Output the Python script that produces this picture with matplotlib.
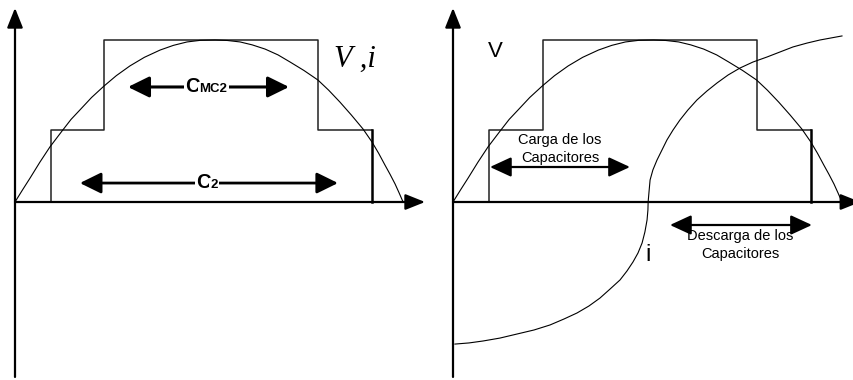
import matplotlib
matplotlib.use("Agg")
import matplotlib.pyplot as plt

# x in electrical degrees (half cycle 0..180), y normalised to peak voltage
steps_x = [16.5, 41.5, 140.6, 165.7]
steps_y = [0.444, 1.0]

v_x = [0, 3.5, 7.0, 11.5, 16.2, 21.8, 26.0, 30.1, 35.5, 41.3, 47.0, 53.3,
       60.0, 67.3, 73.5, 79.8, 86.0, 92.8, 98.5, 104.4, 110.0, 116.0, 122.0,
       127.6, 134.0, 140.5, 145.5, 150.7, 156.0, 161.4, 165.6, 168.7, 171.6,
       174.0, 176.3, 178.2, 180.0]
v_y = [0, 0.075, 0.148, 0.245, 0.340, 0.438, 0.510, 0.568, 0.645, 0.716, 0.780, 0.840,
       0.893, 0.938, 0.967, 0.988, 0.998, 1.0, 0.997, 0.988, 0.970, 0.944, 0.908,
       0.864, 0.812, 0.753, 0.690, 0.617, 0.537, 0.451, 0.370, 0.300, 0.228,
       0.170, 0.111, 0.055, 0]

i_x = [0.9, 7.4, 13.9, 21.7, 29.6, 37.5, 44.9, 51.4, 57.4, 62.9, 68.0, 72.7,
       77.3, 80.5, 83.3, 85.6, 87.5, 88.8, 89.8, 90.2, 90.3,
       90.7, 91.2, 92.5, 94.4, 96.7, 99.0, 101.8, 105.0, 108.7, 112.9, 117.5,
       122.2, 127.3, 132.8, 138.8, 145.3, 151.3, 157.3, 163.8, 169.8, 180.0]
i_y = [-0.877, -0.870, -0.858, -0.840, -0.815, -0.790, -0.759, -0.722, -0.685, -0.642, -0.593, -0.537,
       -0.481, -0.426, -0.370, -0.315, -0.253, -0.185, -0.111, -0.049, 0,
       0.062, 0.136, 0.198, 0.259, 0.321, 0.383, 0.444, 0.506, 0.568, 0.630, 0.685,
       0.735, 0.784, 0.827, 0.864, 0.895, 0.926, 0.957, 0.981, 1.0, 1.025]

# double arrows: (x start, x end, y)
arr_cmc2 = (52.4, 127.1, 0.71)
arr_c2 = (30.1, 149.8, 0.117)
arr_carga = (17.1, 81.9, 0.216)
arr_descarga = (100.4, 166.1, -0.142)

W, H = 854, 380
fig = plt.figure(figsize=(W / 100, H / 100), dpi=100)


def make_axes(left_px, width_px, origin_px, px_per_deg):
    ax = fig.add_axes([left_px / W, 0, width_px / W, 1])
    ax.set_xlim((left_px - origin_px) / px_per_deg, (left_px + width_px - origin_px) / px_per_deg)
    # y axis: zero at 202 px from top, 162 px per unit
    ax.set_ylim((202 - H) / 162, 202 / 162)
    ax.axis('off')
    return ax


def axes_arrows(ax, x_tip):
    kw = dict(arrowstyle='-|>,head_length=0.6,head_width=0.24', mutation_scale=20,
              lw=1.6, color='black', shrinkA=0, shrinkB=0)
    ax.annotate('', xy=(x_tip, 0), xytext=(0, 0), arrowprops=kw, annotation_clip=False)
    ax.annotate('', xy=(0, 1.198), xytext=(0, -1.08), arrowprops=kw, annotation_clip=False)


def draw_steps(ax):
    a, b, c, d = steps_x
    lo, hi = steps_y
    ax.plot([a, a, b, b, c, c, d], [0, lo, lo, hi, hi, lo, lo], color='#222222', lw=1.1)
    ax.plot([d, d], [lo, 0], color='black', lw=1.8)


def double_arrow(ax, spec, lw, hl=0.65, hw=0.32):
    x0, x1, y = spec
    ax.annotate('', xy=(x1, y), xytext=(x0, y),
                arrowprops=dict(arrowstyle='<|-|>,head_length=%s,head_width=%s' % (hl, hw),
                                mutation_scale=20, lw=lw, color='black',
                                shrinkA=0, shrinkB=0))


# ---------- left panel ----------
axL = make_axes(0, 430, 15, 2.156)
draw_steps(axL)
axL.plot(v_x, v_y, color='black', lw=0.8)
axes_arrows(axL, 190.2)
double_arrow(axL, arr_cmc2, 2.2)
double_arrow(axL, arr_c2, 2.0)

box = dict(facecolor='white', edgecolor='none', pad=1)
axL.text(85.8, 0.676, 'C', fontsize=14.5, fontweight='bold', family='Liberation Sans',
         ha='right', va='baseline', bbox=box)
axL.text(85.6, 0.676, 'MC2', fontsize=9.5, fontweight='bold', family='Liberation Sans',
         ha='left', va='baseline', bbox=box)
axL.text(90.8, 0.086, 'C', fontsize=14.5, fontweight='bold', family='Liberation Sans',
         ha='right', va='baseline', bbox=box)
axL.text(90.6, 0.086, '2', fontsize=9.5, fontweight='bold', family='Liberation Sans',
         ha='left', va='baseline', bbox=box)
axL.text(148.0, 0.88, 'V ,i', fontsize=22, family='Liberation Serif', style='italic',
         ha='left', va='center')

# ---------- right panel ----------
axR = make_axes(430, 424, 453, 2.161)
draw_steps(axR)
axR.plot(v_x, v_y, color='black', lw=0.8)
axR.plot(i_x, i_y, color='black', lw=0.8)
axes_arrows(axR, 188.5)
double_arrow(axR, arr_carga, 1.6, 0.65, 0.3)
double_arrow(axR, arr_descarga, 1.6, 0.65, 0.3)

axR.text(19.4, 0.93, 'V', fontsize=16, family='Liberation Sans', ha='center', va='center')
axR.text(90.4, -0.33, 'i', fontsize=17, family='Liberation Sans', ha='center', va='center')
axR.text(49.5, 0.383, 'Carga de los', fontsize=10.5, family='Liberation Sans',
         ha='center', va='center')
axR.text(49.5, 0.272, 'Capacitores', fontsize=10.5, family='Liberation Sans',
         ha='center', va='center')
axR.text(132.8, -0.21, 'Descarga de los', fontsize=10.5, family='Liberation Sans',
         ha='center', va='center')
axR.text(132.8, -0.322, 'Capacitores', fontsize=10.5, family='Liberation Sans',
         ha='center', va='center')

fig.savefig('out.png', dpi=100)
